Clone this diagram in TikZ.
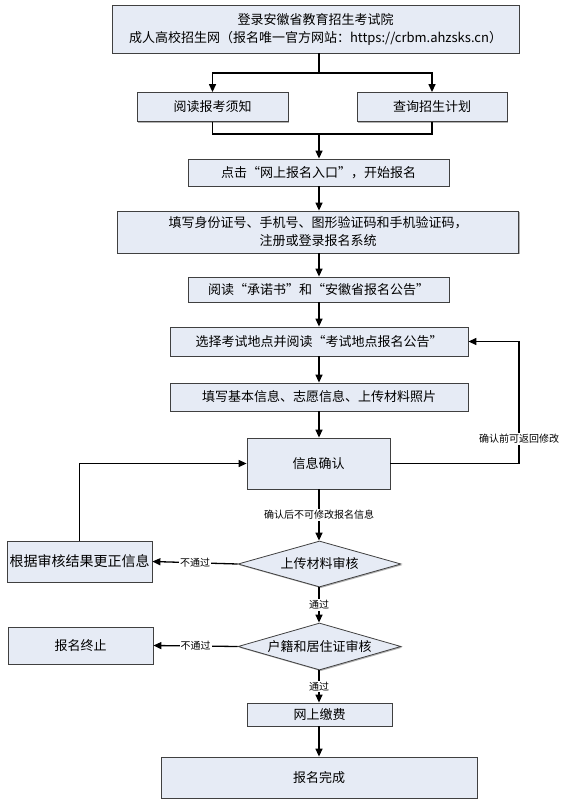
\documentclass[tikz,border=0pt]{standalone}
\usepackage{fontspec}
\setmainfont{Noto Sans CJK SC}
\usetikzlibrary{arrows.meta,shapes.geometric,shadows}
\definecolor{boxfill}{HTML}{E6EBF5}
\begin{document}
\begin{tikzpicture}[x=1pt,y=-1pt,
  box/.style={draw=black!75, line width=0.8pt, fill=boxfill, inner sep=0pt, align=center,
    font=\fontsize{13}{18}\selectfont,
    general shadow={fill=black!30, shadow xshift=1.2pt, shadow yshift=-1.2pt}},
  dia/.style={diamond, draw=black!75, line width=0.8pt, fill=boxfill, inner sep=0pt,
    general shadow={fill=black!30, shadow xshift=1.2pt, shadow yshift=-1.2pt}},
  ln/.style={line width=1.3pt},
  arr/.style={line width=1.3pt, -{Triangle[length=8pt,width=7pt]}},
  lbl/.style={fill=white, inner sep=1pt, font=\fontsize{10}{12}\selectfont}
]
\useasboundingbox (0,0) rectangle (561,803);
\coordinate (spine) at (319,0);

\node[box, minimum width=407pt, minimum height=48pt] (b1) at (315.5,29)
  {登录安徽省教育招生考试院\\成人高校招生网（报名唯一官方网站：https://crbm.ahzsks.cn）};
\node[box, minimum width=151pt, minimum height=29pt] (b2a) at (212.5,107) {阅读报考须知};
\node[box, minimum width=150pt, minimum height=29pt] (b2b) at (432,107) {查询招生计划};
\node[box, minimum width=261pt, minimum height=27pt] (b3) at (318.5,172.5) {点击“网上报名入口”，开始报名};
\node[box, minimum width=401pt, minimum height=42pt] (b4) at (318,232)
  {填写身份证号、手机号、图形验证码和手机验证码，\\注册或登录报名系统};
\node[box, minimum width=261pt, minimum height=25pt] (b5) at (318.5,289.5) {阅读“承诺书”和“安徽省报名公告”};
\node[box, minimum width=298pt, minimum height=29pt] (b6) at (319,341.5) {选择考试地点并阅读“考试地点报名公告”};
\node[box, minimum width=298pt, minimum height=28pt] (b7) at (319,397) {填写基本信息、志愿信息、上传材料照片};
\node[box, minimum width=143pt, minimum height=51pt] (b8) at (318.5,463.5) {信息确认};
\node[box, minimum width=145pt, minimum height=41pt, font=\fontsize{14}{18}\selectfont] (fix) at (79.5,561.5) {根据审核结果更正信息};
\node[dia, minimum width=163pt, minimum height=46pt] (d1) at (319.5,564) {};
\node[font=\fontsize{13}{18}\selectfont] (d1t) at (d1.center) {上传材料审核};
\node[box, minimum width=145pt, minimum height=37pt] (stop) at (80.5,645.5) {报名终止};
\node[dia, minimum width=163pt, minimum height=47pt] (d2) at (319.5,646.5) {};
\node[font=\fontsize{13}{18}\selectfont] (d2t) at (d2.center) {户籍和居住证审核};
\node[box, minimum width=145pt, minimum height=23pt] (pay) at (319.5,714.5) {网上缴费};
\node[box, minimum width=316pt, minimum height=41pt] (done) at (319,777.5) {报名完成};

% top split
\coordinate (s1) at (319,73);
\draw[ln] (spine |- b1.south) -- (s1);
\draw[arr] (s1) -| (b2a.north);
\draw[arr] (s1) -| (b2b.north);
\coordinate (j1) at (319,134);
\draw[ln] (b2a.south) |- (j1);
\draw[ln] (b2b.south) |- (j1);
\draw[arr] (j1) -- (spine |- b3.north);

\draw[arr] (spine |- b3.south) -- (spine |- b4.north);
\draw[arr] (spine |- b4.south) -- (spine |- b5.north);
\draw[arr] (spine |- b5.south) -- (spine |- b6.north);
\draw[arr] (spine |- b6.south) -- (spine |- b7.north);
\draw[arr] (spine |- b7.south) -- (spine |- b8.north);

% feedback
\coordinate (fb) at (519,463.5);
\draw[arr] (b8.east) -- (fb) |- (b6.east);
\node[lbl] (fbl) at (519,439) {确认前可返回修改};

\draw[arr] (spine |- b8.south) -- node[lbl] (l1) {确认后不可修改报名信息} (spine |- d1.north);
\draw[arr] (d1.west) -- node[lbl] (l2) {不通过} (fix.east);
\draw[arr] (fix.north) |- (b8.west);
\draw[arr] (spine |- d1.south) -- node[lbl] (l3) {通过} (spine |- d2.north);
\draw[arr] (d2.west) -- node[lbl] (l4) {不通过} (stop.east);
\draw[arr] (spine |- d2.south) -- node[lbl] (l5) {通过} (spine |- pay.north);
\draw[arr] (spine |- pay.south) -- (spine |- done.north);
\end{tikzpicture}
\end{document}
